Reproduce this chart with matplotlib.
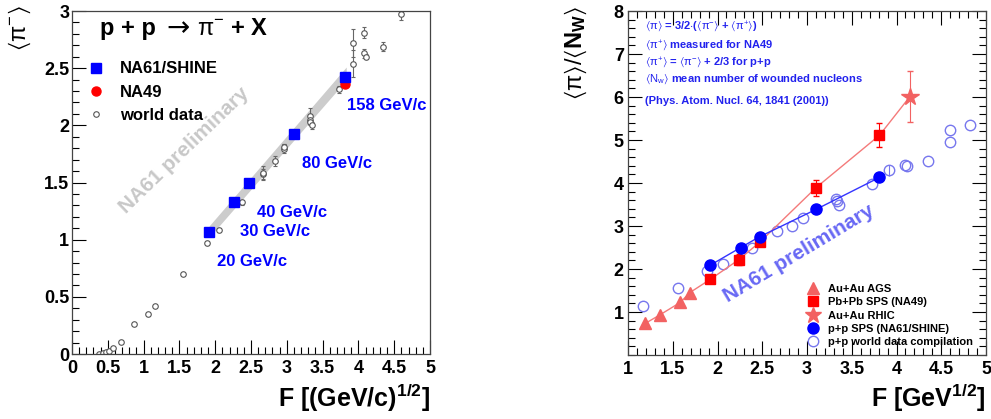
import matplotlib
matplotlib.use("Agg")
import matplotlib.pyplot as plt
from matplotlib.ticker import MultipleLocator, FixedLocator
from matplotlib.lines import Line2D

plt.rcParams['font.family'] = ['Liberation Sans', 'DejaVu Sans']
plt.rcParams['mathtext.fontset'] = 'custom'
plt.rcParams['mathtext.rm'] = 'Liberation Sans'
plt.rcParams['mathtext.bf'] = 'Liberation Sans:bold'
plt.rcParams['mathtext.it'] = 'Liberation Sans:italic'
plt.rcParams['mathtext.fallback'] = 'stixsans'

# ---------------- Left panel data ----------------
na61_F = [1.915, 2.26, 2.47, 3.10, 3.81]
na61_pim = [1.065, 1.33, 1.495, 1.926, 2.427]
na49_F = [3.81]
na49_pim = [2.36]
world_F = [0.38, 0.43, 0.48, 0.52, 0.57, 0.685, 0.87, 1.06, 1.165, 1.55, 1.88, 2.06,
           2.38, 2.665, 2.665, 2.83, 2.96, 2.96, 3.32, 3.32, 3.33, 3.35, 3.73, 3.92,
           3.92, 4.08, 4.08, 4.11, 4.35, 4.59]
world_pim = [0.0, 0.01, 0.02, 0.03, 0.05, 0.105, 0.265, 0.346, 0.42, 0.70, 0.97, 1.085,
             1.327, 1.574, 1.585, 1.685, 1.795, 1.807, 2.08, 2.05, 2.03, 2.0, 2.316, 2.54,
             2.72, 2.81, 2.63, 2.60, 2.686, 2.975]
world_err = [0.005, 0.005, 0.005, 0.01, 0.01, 0.01, 0.01, 0.01, 0.01, 0.01, 0.02, 0.02,
             0.02, 0.04, 0.06, 0.045, 0.04, 0.03, 0.07, 0.03, 0.03, 0.03, 0.03, 0.12,
             0.12, 0.05, 0.04, 0.02, 0.04, 0.05]
band_F = [1.915, 3.83]
band_lo = [1.02, 2.395]
band_hi = [1.12, 2.51]
beam_labels = ["20 GeV/c", "30 GeV/c", "40 GeV/c", "80 GeV/c", "158 GeV/c"]
beam_label_pos = [(2.51, 0.806), (2.84, 1.07), (3.07, 1.24), (3.70, 1.667), (4.39, 2.17)]

# ---------------- Right panel data ----------------
ags_F = [1.194, 1.354, 1.585, 1.69]
ags_r = [0.736, 0.93, 1.224, 1.45]
ags_err = [0.03, 0.03, 0.05, 0.08]
pbpb_F = [1.92, 2.24, 2.47, 3.10, 3.81]
pbpb_r = [1.76, 2.22, 2.62, 3.89, 5.11]
pbpb_err = [0.05, 0.12, 0.08, 0.19, 0.28]
rhic_F = [4.15]
rhic_r = [6.01]
rhic_err = [0.59]
pp_F = [1.92, 2.26, 2.47, 3.10, 3.81]
pp_r = [2.09, 2.50, 2.75, 3.385, 4.13]
ppw_F = [1.17, 1.555, 1.88, 2.06, 2.38, 2.67, 2.83, 2.96, 3.32, 3.33, 3.36, 3.73, 3.92,
         4.09, 4.12, 4.35, 4.60, 4.60, 4.82]
ppw_r = [1.14, 1.55, 1.96, 2.11, 2.48, 2.88, 3.01, 3.19, 3.63, 3.58, 3.49, 3.97, 4.30,
         4.43, 4.40, 4.52, 4.96, 5.23, 5.34]
ppw_err = [0, 0, 0, 0, 0, 0, 0, 0, 0, 0, 0, 0, 0.13, 0, 0, 0, 0, 0, 0]
info_lines = [
    r"$\langle\mathrm{\pi}\rangle$ = 3/2$\cdot$($\langle\mathrm{\pi}^{-}\rangle$ + $\langle\mathrm{\pi}^{+}\rangle$)",
    r"$\langle\mathrm{\pi}^{+}\rangle$ measured for NA49",
    r"$\langle\mathrm{\pi}^{+}\rangle$ = $\langle\mathrm{\pi}^{-}\rangle$ + 2/3 for p+p",
    r"$\langle\mathrm{N}_{\mathrm{w}}\rangle$ mean number of wounded nucleons",
    "(Phys. Atom. Nucl. 64, 1841 (2001))",
]
info_y = [7.63, 7.19, 6.79, 6.41, 5.91]

BLUE = '#0000ff'
RED = '#ff0000'
SALMON = '#f26262'

fig = plt.figure(figsize=(9.91, 4.19), dpi=100)
ax1 = fig.add_axes([72/991, 1-354/419, 358/991, 343/419])
ax2 = fig.add_axes([628/991, 1-355/419, 358/991, 344/419])

# ---------------- Left panel ----------------
ax1.fill_between(band_F, band_lo, band_hi, color='#cccccc', lw=0, zorder=1)
ax1.text(1.565, 1.78, "NA61 preliminary", color='#c8c8c8', fontsize=15, fontweight='bold',
         rotation=44, ha='center', va='center', zorder=1.5)
ax1.errorbar(world_F, world_pim, yerr=world_err, fmt='o', mfc='white', mec='#555555',
             ecolor='#666666', ms=4, mew=0.8, elinewidth=0.8, capsize=1.5, zorder=2)
ax1.plot(na61_F, na61_pim, 's', color=BLUE, ms=6.5, zorder=3)
ax1.plot(na49_F, na49_pim, 'o', color=RED, ms=6.5, zorder=2.5)
for lab, (xx, yy) in zip(beam_labels, beam_label_pos):
    ax1.text(xx, yy, lab, color=BLUE, fontsize=12, fontweight='bold', ha='center', va='center')
# title: p + p -> pi- + X
ax1.text(0.39, 2.845, "p + p", fontsize=17, fontweight='bold', ha='left', va='center')
ax1.text(1.32, 2.855, "\u2192", fontsize=20, family='DejaVu Sans', ha='left', va='center')
ax1.text(1.74, 2.845, "$\\mathrm{\\pi}^{-}$ + X", fontsize=17, fontweight='bold',
         ha='left', va='center')
h1 = [Line2D([], [], ls='', marker='s', color=BLUE, ms=6.5),
      Line2D([], [], ls='', marker='o', color=RED, ms=6.5),
      Line2D([], [], ls='', marker='o', mfc='white', mec='#555555', ms=4, mew=0.8)]
ax1.legend(h1, ["NA61/SHINE", "NA49", "world data"], loc='upper left',
           bbox_to_anchor=(0.0, 0.887), frameon=False,
           prop={'size': 12, 'weight': 'bold'}, handletextpad=0.7, labelspacing=0.5,
           borderaxespad=0.3, handlelength=1.5)
ax1.set_xlim(0, 5)
ax1.set_ylim(0, 3)
ax1.xaxis.set_major_locator(MultipleLocator(0.5))
ax1.xaxis.set_minor_locator(MultipleLocator(0.1))
ax1.yaxis.set_major_locator(MultipleLocator(0.5))
ax1.yaxis.set_minor_locator(MultipleLocator(0.1))
ax1.xaxis.set_major_formatter(plt.FuncFormatter(lambda v, p: f"{v:g}"))
ax1.yaxis.set_major_formatter(plt.FuncFormatter(lambda v, p: f"{v:g}"))
ax1.tick_params(which='both', direction='in', top=False, right=False, labelsize=13)
ax1.tick_params(which='major', length=10, width=0.8)
ax1.tick_params(which='minor', length=5, width=0.8)
for lab in ax1.get_xticklabels() + ax1.get_yticklabels():
    lab.set_fontweight('bold')
ax1.tick_params(axis='x', pad=4)
ax1.tick_params(axis='y', pad=2)
for s in ax1.spines.values():
    s.set_linewidth(0.9)
    s.set_color('#444444')

fig.text(430/991, 1-398/419, r"F [(GeV/c)$^{\mathbf{1/2}}$]", fontsize=18, fontweight='bold',
         ha='right', va='center')
fig.text(20/991, 1-28/419, r"$\langle\mathrm{\pi}^{-}\rangle$", fontsize=17, rotation=90,
         ha='center', va='center')

# ---------------- Right panel ----------------
ax2.plot(ags_F + pbpb_F + rhic_F, ags_r + pbpb_r + rhic_r, '-', color='#f47a7a', lw=1.0, zorder=2)
ax2.plot(pp_F, pp_r, '-', color='#3333ff', lw=1.0, zorder=2)
ax2.errorbar(ppw_F, ppw_r, yerr=ppw_err, fmt='o', mfc='none', mec='#7777ee', ecolor='#7777ee',
             ms=7.5, mew=1.0, elinewidth=0.8, capsize=0, zorder=1.5)
ax2.errorbar(ags_F, ags_r, yerr=ags_err, fmt='^', color=SALMON, ms=8, elinewidth=0.8, zorder=3)
ax2.errorbar(pbpb_F, pbpb_r, yerr=pbpb_err, fmt='s', color=RED, ms=7.5, elinewidth=0.8,
             capsize=2.5, zorder=3)
ax2.errorbar(rhic_F, rhic_r, yerr=rhic_err, fmt='*', color=SALMON, ms=13, elinewidth=0.8,
             capsize=2, zorder=3)
ax2.plot(pp_F, pp_r, 'o', color=BLUE, ms=8, zorder=4)
ax2.text(2.91, 2.35, "NA61 preliminary", color='#6868f4', fontsize=15, fontweight='bold',
         rotation=31, ha='center', va='center', zorder=1)
for line, yy in zip(info_lines, info_y):
    ax2.text(1.19, yy, line, color='#2222ee', fontsize=8, fontweight='bold', ha='left', va='center')
h2 = [Line2D([], [], ls='', marker='^', color=SALMON, ms=8),
      Line2D([], [], ls='', marker='s', color=RED, ms=7.5),
      Line2D([], [], ls='', marker='*', color=SALMON, ms=12),
      Line2D([], [], ls='', marker='o', color=BLUE, ms=8),
      Line2D([], [], ls='', marker='o', mfc='none', mec='#7777ee', ms=7.5, mew=1.0)]
ax2.legend(h2, ["Au+Au AGS", "Pb+Pb SPS (NA49)", "Au+Au RHIC", "p+p SPS (NA61/SHINE)",
                "p+p world data compilation"], loc='lower right', bbox_to_anchor=(0.985, 0.0),
           frameon=False, prop={'size': 8, 'weight': 'bold'}, handletextpad=0.7,
           labelspacing=0.3, borderaxespad=0.3, handlelength=1.2)
ax2.set_xlim(1, 5)
ax2.set_ylim(0, 8)
ax2.xaxis.set_major_locator(MultipleLocator(0.5))
ax2.xaxis.set_minor_locator(MultipleLocator(0.1))
ax2.yaxis.set_major_locator(FixedLocator([1, 2, 3, 4, 5, 6, 7, 8]))
ax2.yaxis.set_minor_locator(MultipleLocator(0.2))
ax2.xaxis.set_major_formatter(plt.FuncFormatter(lambda v, p: f"{v:g}"))
ax2.yaxis.set_major_formatter(plt.FuncFormatter(lambda v, p: f"{v:g}"))
ax2.tick_params(which='both', direction='in', top=True, right=True, labelsize=13)
ax2.tick_params(which='major', length=10, width=0.8)
ax2.tick_params(which='minor', length=5, width=0.8)
for lab in ax2.get_xticklabels() + ax2.get_yticklabels():
    lab.set_fontweight('bold')
ax2.tick_params(axis='x', pad=4)
ax2.tick_params(axis='y', pad=3)
for s in ax2.spines.values():
    s.set_linewidth(0.9)
    s.set_color('#444444')

fig.text(986/991, 1-398/419, r"F [GeV$^{\mathbf{1/2}}$]", fontsize=18, fontweight='bold',
         ha='right', va='center')
fig.text(576/991, 1-53/419, r"$\langle\mathrm{\pi}\rangle$/$\langle\mathbf{N_W}\rangle$",
         fontsize=17, rotation=90, ha='center', va='center')

fig.savefig("out.png", dpi=100)
